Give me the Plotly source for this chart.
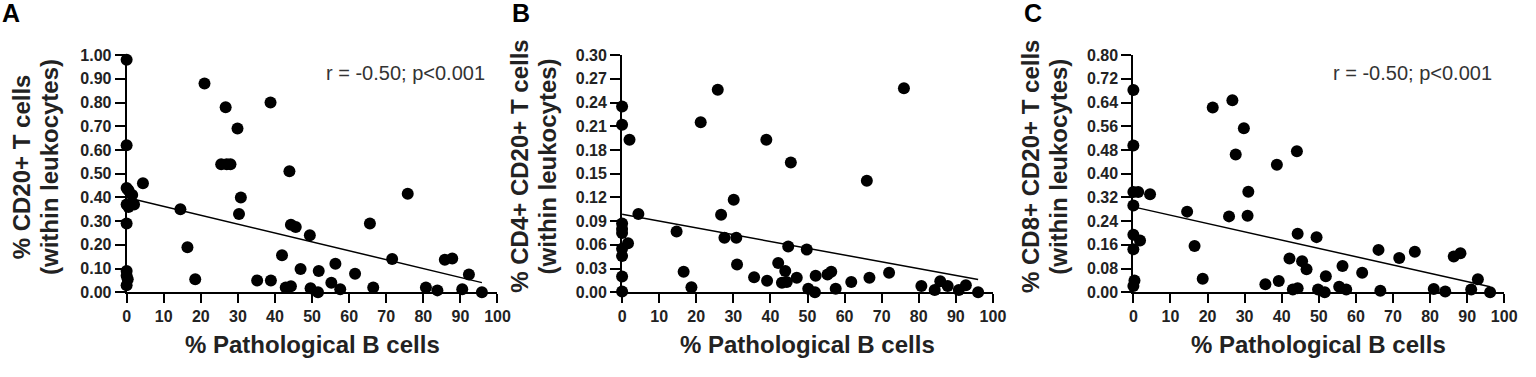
import plotly.graph_objects as go

# ---------------- data ----------------
xA = [0, 0, 0, 0.5, 1.5, 2, 0, 0.5, 0, 0, 0, 0.3, 0,
      4.4, 14.5, 16.4, 18.5, 21, 26.7, 25.5, 27, 28, 29.9, 30.8, 30.3, 38.8,
      35.2, 38.9, 41.9, 43.9, 44.3, 45.6, 42.9, 44.3, 46.9, 49.4, 49.6, 51.8,
      51.6, 55.2, 56.3, 57.6, 61.6, 65.6, 66.5, 71.6, 75.8, 80.7, 83.8, 85.8,
      87.8, 90.5, 92.3, 95.8]
yA = [0.98, 0.62, 0.44, 0.43, 0.41, 0.37, 0.37, 0.36, 0.29, 0.09, 0.07, 0.055, 0.03,
      0.46, 0.35, 0.19, 0.055, 0.88, 0.78, 0.54, 0.54, 0.54, 0.69, 0.40, 0.33, 0.80,
      0.05, 0.05, 0.156, 0.51, 0.285, 0.275, 0.02, 0.025, 0.098, 0.24, 0.017, 0.09,
      0.0, 0.04, 0.12, 0.013, 0.078, 0.29, 0.02, 0.14, 0.415, 0.02, 0.008, 0.137,
      0.142, 0.013, 0.075, 0.0]

xB = [0, 0, 2, 0, 0, 0, 1.6, 0, 0, 0, 0,
      4.4, 14.7, 16.6, 18.7, 21.2, 25.8, 26.7, 27.6, 30.8, 30.1, 31.0, 35.6, 39.1,
      38.9, 42.1, 44.8, 44.0, 43.1, 44.4, 45.5, 47.1, 49.8, 50.2, 52.0, 52.2, 55.4,
      56.4, 57.6, 61.8, 66.0, 66.7, 72.0, 76.0, 80.7, 84.3, 85.8, 87.8, 90.8, 92.7,
      96.0]
yB = [0.235, 0.212, 0.193, 0.087, 0.08, 0.075, 0.062, 0.055, 0.046, 0.02, 0.001,
      0.099, 0.077, 0.026, 0.0064, 0.215, 0.256, 0.098, 0.069, 0.069, 0.117, 0.035,
      0.019, 0.0145, 0.193, 0.037, 0.058, 0.027, 0.012, 0.013, 0.164, 0.0185, 0.054,
      0.0044, 0.0, 0.021, 0.0226, 0.026, 0.0044, 0.013, 0.141, 0.0185, 0.0246, 0.258,
      0.008, 0.003, 0.014, 0.008, 0.003, 0.009, 0.0]

xC = [0, 0, 0, 1.3, 0, 0, 1.8, 0, 0.3, 0,
      4.5, 14.5, 16.5, 18.7, 21.4, 26.7, 25.8, 27.6, 29.8, 31.0, 30.8, 35.6, 39.2,
      38.7, 42.1, 44.1, 44.3, 43.0, 44.3, 45.5, 46.7, 49.4, 49.8, 51.9, 51.6, 55.5,
      56.4, 57.4, 61.7, 66.1, 66.6, 71.7, 75.9, 81.0, 84.1, 86.4, 88.2, 91.1, 92.9,
      96.2]
yC = [0.682, 0.495, 0.338, 0.338, 0.293, 0.194, 0.175, 0.145, 0.04, 0.021,
      0.331, 0.272, 0.156, 0.046, 0.623, 0.648, 0.256, 0.465, 0.553, 0.339, 0.258,
      0.027, 0.038, 0.43, 0.114, 0.476, 0.197, 0.009, 0.014, 0.105, 0.078, 0.186,
      0.009, 0.054, 0.0, 0.019, 0.089, 0.009, 0.066, 0.143, 0.005, 0.116, 0.137,
      0.011, 0.003, 0.121, 0.132, 0.009, 0.044, 0.0]

# linear fits (intercept, slope)
fitA = (0.40, -0.00375)
fitB = (0.0987, -0.00086)
fitC = (0.288, -0.0028)

y_max = [1.0, 0.30, 0.80]
y_step = [0.10, 0.03, 0.08]
stats_text = ["r = -0.50; p<0.001", "r = -0.51; p<0.0001", "r = -0.50; p<0.001"]
y_title_1 = ["% CD20+ T cells", "% CD4+ CD20+ T cells", "% CD8+ CD20+ T cells"]
y_title_2 = ["(within leukocytes)"] * 3
x_title = "% Pathological B cells"
letters = ["A", "B", "C"]

# ---------------- layout geometry (pixels) ----------------
W, H = 1536, 377
panel_px = [(124, 499), (625, 1000), (1142, 1517)]
top_px, bot_px = 49.3, 297.7
ytitle_px = [(18, 46), (521, 550), (1038, 1066)]
letter_px = [-4, 512, 1029]
stat_x = [97.2, 100.5, 97.3]

FONT = "Arial, Liberation Sans, sans-serif"

fig = go.Figure()
datasets = [(xA, yA, fitA), (xB, yB, fitB), (xC, yC, fitC)]
for i, (xs, ys, fit) in enumerate(datasets):
    sx = "x" if i == 0 else f"x{i+1}"
    sy = "y" if i == 0 else f"y{i+1}"
    fig.add_trace(go.Scatter(
        x=xs, y=ys, mode="markers", xaxis=sx, yaxis=sy,
        marker=dict(size=12, color="black", line=dict(width=0)),
        cliponaxis=False, showlegend=False))
    x0, x1 = min(xs), max(xs)
    b0, b1 = fit
    fig.add_trace(go.Scatter(
        x=[x0, x1], y=[b0 + b1 * x0, b0 + b1 * x1], mode="lines",
        xaxis=sx, yaxis=sy, line=dict(color="black", width=1.5),
        cliponaxis=False, showlegend=False))

layout = dict(
    width=W, height=H, margin=dict(l=0, r=0, t=0, b=0),
    paper_bgcolor="white", plot_bgcolor="white",
    font=dict(family=FONT, color="#222"),
)
annotations = []
for i in range(3):
    kx = "xaxis" if i == 0 else f"xaxis{i+1}"
    ky = "yaxis" if i == 0 else f"yaxis{i+1}"
    l, r = panel_px[i]
    layout[kx] = dict(
        domain=[l / W, r / W], range=[0, 100], tick0=0, dtick=10,
        anchor="y" if i == 0 else f"y{i+1}",
        showline=True, linewidth=2, linecolor="black", mirror=False,
        ticks="outside", ticklen=9, tickwidth=2, tickcolor="black",
        showgrid=False, zeroline=False,
        tickfont=dict(family=FONT, size=16, color="#222", weight="bold"),
    )
    layout[ky] = dict(
        domain=[1 - bot_px / H, 1 - top_px / H], range=[0, y_max[i]],
        tick0=0, dtick=y_step[i], tickformat=".2f",
        anchor="x" if i == 0 else f"x{i+1}",
        showline=True, linewidth=2, linecolor="black",
        ticks="outside", ticklen=10, tickwidth=2, tickcolor="black",
        showgrid=False, zeroline=False,
        tickfont=dict(family=FONT, size=16, color="#222", weight="bold"),
    )
    xr = "x" if i == 0 else f"x{i+1}"
    # statistics text
    annotations.append(dict(
        text=stats_text[i], xref=xr, yref="paper",
        x=stat_x[i], y=1 - 68 / H, xanchor="right", yanchor="middle",
        showarrow=False, font=dict(family=FONT, size=20, color="#333")))
    # y titles (two lines)
    for j, txt in enumerate([y_title_1[i], y_title_2[i]]):
        annotations.append(dict(
            text=txt, xref="paper", yref="paper",
            x=ytitle_px[i][j] / W, y=1 - 166 / H,
            xanchor="center", yanchor="middle", textangle=-90,
            showarrow=False,
            font=dict(family=FONT, size=24, color="#222", weight="bold")))
    # x title
    annotations.append(dict(
        text=x_title, xref="paper", yref="paper",
        x=(l + r) / 2 / W, y=1 - 352 / H, xanchor="center", yanchor="middle",
        showarrow=False,
        font=dict(family=FONT, size=24, color="#222", weight="bold")))
    # panel letter
    annotations.append(dict(
        text=letters[i], xref="paper", yref="paper",
        x=letter_px[i] / W, y=1 + 12 / H, xanchor="left", yanchor="top",
        showarrow=False,
        font=dict(family=FONT, size=25, color="black", weight="bold")))

layout["annotations"] = annotations
fig.update_layout(**layout)
fig.write_html("out.html",
               config={"displayModeBar": False},
               post_script="document.body.style.margin='0';"
                           "document.body.style.overflow='hidden';")
